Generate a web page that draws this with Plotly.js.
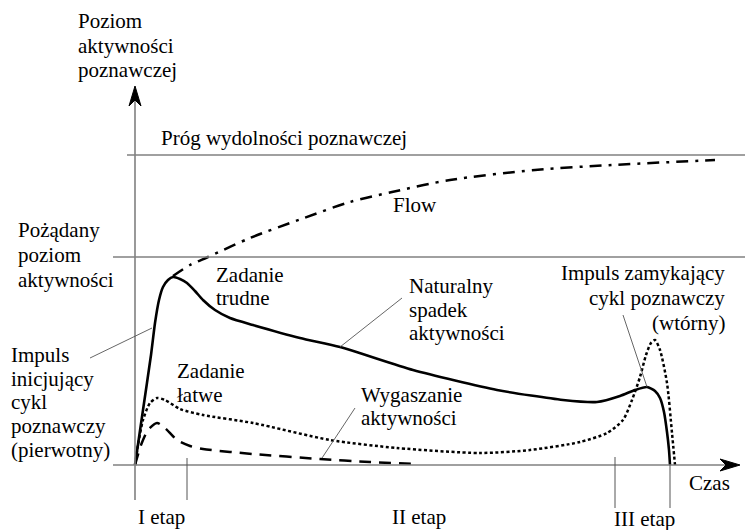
<!DOCTYPE html>
<html><head><meta charset="utf-8">
<script src="https://cdn.plot.ly/plotly-3.0.1.min.js"></script>
<style>html,body{margin:0;padding:0;background:#fff}#chart{width:745px;height:530px}</style>
</head><body><div id="chart"></div>
<script>
// Conceptual units: t = time (0 at origin), a = activity level (0 at time axis)
const flowT = [38, 55, 73, 115, 169, 215, 257, 315, 400, 477, 580];
const flowA = [189, 200, 208, 227, 247, 263, 273, 285, 295, 300, 305];

const hardT = [0, 8, 16, 20, 24, 28, 33, 38, 45, 52, 60, 68, 80, 95, 118, 165, 205, 278, 362, 428, 462, 485, 500, 512, 520, 525, 529, 532, 534, 535];
const hardA = [0, 55, 110, 142, 165, 178, 185, 188, 186, 182, 174, 165, 155, 147, 140, 127, 118, 95, 75, 65, 63, 69, 75, 78, 74, 67, 53, 33, 15, 0];

const easyT = [0, 3, 8, 15, 22, 30, 45, 68, 118, 195, 262, 345, 395, 445, 472, 488, 497, 505, 511, 516, 520, 525, 532, 537, 540];
const easyA = [0, 20, 45, 62, 67, 65, 56, 50, 42, 25, 17, 12, 15, 23, 32, 45, 65, 88, 110, 122, 125, 115, 82, 32, 0];

const fadeT = [0, 6, 13, 22, 30, 42, 55, 68, 118, 185, 235, 283];
const fadeA = [0, 20, 35, 42, 37, 25, 19, 16, 11, 6, 3, 1];

const thresholdLevel = 310;   // Próg wydolności poznawczej
const desiredLevel = 208;     // Pożądany poziom aktywności
const stageTicks = [52, 480, 535];

// leader lines: [t0, a0, t1, a1]
const leaders = [
  [-45, 107, 17, 137],
  [267, 167, 205, 118],
  [220, 57, 187, 7],
  [488, 150, 512, 78]
];

const txtYAxis = ['Poziom', 'aktywności', 'poznawczej'];
const txtThreshold = ['Próg wydolności poznawczej'];
const txtFlow = ['Flow'];
const txtDesired = ['Pożądany', 'poziom', 'aktywności'];
const txtHard = ['Zadanie', 'trudne'];
const txtNatural = ['Naturalny', 'spadek', 'aktywności'];
const txtClosing = ['Impuls zamykający', 'cykl poznawczy', '(wtórny)'];
const txtOpening = ['Impuls', 'inicjujący', 'cykl', 'poznawczy', '(pierwotny)'];
const txtEasy = ['Zadanie', 'łatwe'];
const txtFade = ['Wygaszanie', 'aktywności'];
const txtTime = ['Czas'];
const txtStages = ['I etap', 'II etap', 'III etap'];

const FONT = 'Liberation Serif';
const FS = 21;
const annotations = [];
function label(lines, x, baseline, step, anchor) {
  lines.forEach((s, i) => {
    annotations.push({
      x: x, y: baseline - i * step + 7, xref: 'x', yref: 'y',
      text: s, showarrow: false, xanchor: anchor || 'left', yanchor: 'middle',
      align: anchor === 'right' ? 'right' : 'left', borderpad: 0,
      font: {family: FONT, size: FS, color: '#000'}
    });
  });
}
label(txtYAxis, -58, 437, 24.5);
label(txtThreshold, 25, 320, 24);
label(txtFlow, 257, 253, 24);
label(txtDesired, -118, 228, 25);
label(txtHard, 80, 183, 23);
label(txtNatural, 273, 172, 23.5);
label(txtClosing, 591, 185, 25, 'right');
label(txtOpening, -125, 103, 23.7);
label(txtEasy, 41, 87, 24);
label(txtFade, 225, 63, 23);
label(txtTime, 553, -25, 24);
label([txtStages[0]], 2, -59, 24);
label([txtStages[1]], 256, -59, 24);
label([txtStages[2]], 478, -61, 24);

const GRAY = '#808080';
const shapes = [];
// y axis and x axis
shapes.push({type: 'line', xref: 'x', yref: 'y', x0: 0, x1: 0, y0: -35, y1: 370, line: {color: GRAY, width: 1.6}});
shapes.push({type: 'line', xref: 'x', yref: 'y', x0: -22, x1: 596, y0: 0, y1: 0, line: {color: GRAY, width: 1.6}});
// level lines
shapes.push({type: 'line', xref: 'x', yref: 'y', x0: -8, x1: 612, y0: thresholdLevel, y1: thresholdLevel, line: {color: GRAY, width: 1.6}});
shapes.push({type: 'line', xref: 'x', yref: 'y', x0: -22, x1: 612, y0: desiredLevel, y1: desiredLevel, line: {color: GRAY, width: 1.6}});
// stage ticks
shapes.push({type: 'line', xref: 'x', yref: 'y', x0: stageTicks[0], x1: stageTicks[0], y0: 7, y1: -35, line: {color: '#555', width: 1}});
shapes.push({type: 'line', xref: 'x', yref: 'y', x0: stageTicks[1], x1: stageTicks[1], y0: 8, y1: -43, line: {color: '#555', width: 1}});
shapes.push({type: 'line', xref: 'x', yref: 'y', x0: stageTicks[2], x1: stageTicks[2], y0: 0, y1: -43, line: {color: '#555', width: 1}});
// leaders
leaders.forEach(l => shapes.push({type: 'line', xref: 'x', yref: 'y', x0: l[0], y0: l[1], x1: l[2], y1: l[3], line: {color: '#555', width: 0.9}}));
// arrowheads
shapes.push({type: 'path', xref: 'x', yref: 'y', xsizemode: 'pixel', ysizemode: 'pixel', xanchor: 0, yanchor: 379,
  path: 'M0,0 L-6,-20 L0,-14 L6,-20 Z', fillcolor: '#000', line: {color: '#000', width: 1}});
shapes.push({type: 'path', xref: 'x', yref: 'y', xsizemode: 'pixel', ysizemode: 'pixel', xanchor: 605, yanchor: 0,
  path: 'M0,0 L-20,6 L-14,0 L-20,-6 Z', fillcolor: '#000', line: {color: '#000', width: 1}});

const traces = [
  {x: flowT, y: flowA, mode: 'lines', line: {color: '#000', width: 2.5, dash: '12px,7px,3px,7px', shape: 'spline', smoothing: 0.8}, hoverinfo: 'skip'},
  {x: easyT, y: easyA, mode: 'lines', line: {color: '#000', width: 2.5, dash: '3px,2.5px', shape: 'spline', smoothing: 0.7}, hoverinfo: 'skip'},
  {x: fadeT, y: fadeA, mode: 'lines', line: {color: '#000', width: 2.5, dash: '12px,8px', shape: 'spline', smoothing: 0.7}, hoverinfo: 'skip'},
  {x: hardT, y: hardA, mode: 'lines', line: {color: '#000', width: 2.6, shape: 'spline', smoothing: 0.6}, hoverinfo: 'skip'}
];

const layout = {
  width: 745, height: 530,
  margin: {l: 0, r: 0, t: 0, b: 0},
  paper_bgcolor: '#fff', plot_bgcolor: '#fff',
  showlegend: false,
  font: {family: FONT},
  xaxis: {range: [-135, 610], visible: false, fixedrange: true},
  yaxis: {range: [-65, 465], visible: false, fixedrange: true},
  shapes: shapes,
  annotations: annotations
};
Plotly.newPlot('chart', traces, layout, {displayModeBar: false, staticPlot: true});
</script>
</body></html>
